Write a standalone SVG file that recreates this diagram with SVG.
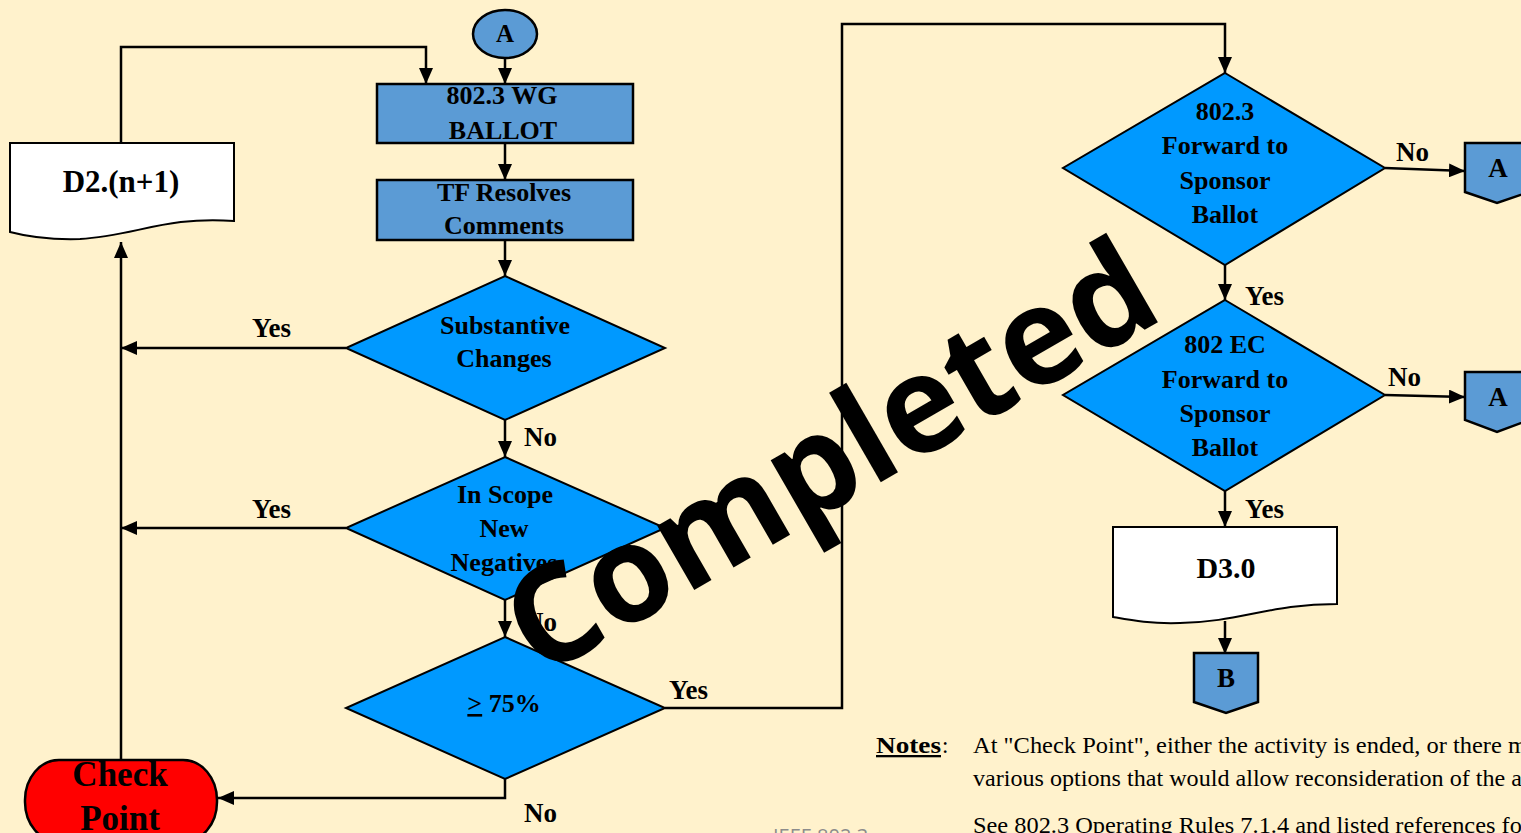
<svg xmlns="http://www.w3.org/2000/svg" width="1521" height="833" viewBox="0 0 1521 833">
<defs>
<marker id="ah" markerWidth="17" markerHeight="14" refX="16" refY="7" orient="auto" markerUnits="userSpaceOnUse"><path d="M0,0 L16,7 L0,14 z" fill="#000"/></marker>
</defs>
<style>
.t{font-family:"Liberation Serif","Times New Roman",serif;font-weight:bold;font-size:26px;fill:#000;text-anchor:middle}
.l{font-family:"Liberation Serif","Times New Roman",serif;font-weight:bold;font-size:27px;fill:#000}
.n{font-family:"Liberation Serif","Times New Roman",serif;font-size:23px;fill:#000}
.box{fill:#5B9BD5;stroke:#000;stroke-width:2.5}
.dia{fill:#0099FF;stroke:#000;stroke-width:2}
.doc{fill:#fff;stroke:#000;stroke-width:2}
.c{fill:none;stroke:#000;stroke-width:2.5;marker-end:url(#ah)}
</style>
<rect x="0" y="0" width="1521" height="833" fill="#FFF2CC"/>

<g id="connectors">
<path class="c" d="M505,58 V84"/>
<path class="c" d="M121,143 V47 H426 V84"/>
<path class="c" d="M505,143 V180"/>
<path class="c" d="M505,240 V276"/>
<path class="c" d="M346,348 H121"/>
<path class="c" d="M505,420 V457"/>
<path class="c" d="M346,528 H121"/>
<path class="c" d="M505,600 V637"/>
<path class="c" d="M665,708 H842 V24 H1225 V73"/>
<path class="c" d="M505,779 V798 H218"/>
<path class="c" d="M121,760 V242"/>
<path class="c" d="M1385,168 L1465,171"/>
<path class="c" d="M1225,265 V300"/>
<path class="c" d="M1385,395 L1465,397"/>
<path class="c" d="M1225,491 V527"/>
<path class="c" d="M1225,621 V654"/>
</g>

<g id="labels">
<text class="l" x="252" y="337">Yes</text>
<text class="l" x="524" y="446">No</text>
<text class="l" x="252" y="518">Yes</text>
<text class="l" x="524" y="631">No</text>
<text class="l" x="669" y="699">Yes</text>
<text class="l" x="524" y="822">No</text>
<text class="l" x="1396" y="161">No</text>
<text class="l" x="1245" y="305">Yes</text>
<text class="l" x="1388" y="386">No</text>
<text class="l" x="1245" y="518">Yes</text>
</g>

<g id="nodeA">
<ellipse class="box" cx="505" cy="34" rx="32" ry="24"/>
<text class="t" x="505" y="42" style="font-size:25px">A</text>
</g>

<g id="wgBallot">
<rect class="box" x="377" y="84" width="256" height="59"/>
<text class="t" x="502" y="104">802.3 WG</text>
<text class="t" x="503" y="139">BALLOT</text>
</g>

<g id="tfResolves">
<rect class="box" x="377" y="180" width="256" height="60"/>
<text class="t" x="504" y="201">TF Resolves</text>
<text class="t" x="504" y="234">Comments</text>
</g>

<g id="substantive">
<polygon class="dia" points="505,276 665,348 505,420 346,348"/>
<text class="t" x="505" y="334">Substantive</text>
<text class="t" x="504" y="367">Changes</text>
</g>

<g id="inScope">
<polygon class="dia" points="505,457 665,528 505,600 346,528"/>
<text class="t" x="505" y="503">In Scope</text>
<text class="t" x="504" y="537">New</text>
<text class="t" x="504" y="571">Negatives</text>
</g>

<g id="pct75">
<polygon class="dia" points="505,637 665,708 505,779 346,708"/>
<text class="t" x="504" y="712"><tspan text-decoration="underline">&gt;</tspan> 75%</text>
</g>

<g id="d2">
<path class="doc" d="M10,143 H234 V221 C165,216 135,236 80,239 C45,240 25,236 10,232 Z"/>
<text class="t" x="121" y="192" style="font-size:31px">D2.(n+1)</text>
</g>

<g id="checkPoint">
<rect x="25" y="760" width="192" height="82" rx="34" ry="40" fill="#FF0000" stroke="#000" stroke-width="2.5"/>
<text class="t" x="120" y="786" style="font-size:35px">Check</text>
<text class="t" x="120" y="830" style="font-size:35px">Point</text>
</g>

<g id="fwd8023">
<polygon class="dia" points="1225,73 1385,168 1225,265 1063,168"/>
<text class="t" x="1225" y="120">802.3</text>
<text class="t" x="1225" y="154">Forward to</text>
<text class="t" x="1225" y="189">Sponsor</text>
<text class="t" x="1225" y="223">Ballot</text>
</g>

<g id="offA1">
<polygon class="box" points="1465,143 1529,143 1529,192 1497,203 1465,192"/>
<text class="t" x="1498" y="177" style="font-size:27px">A</text>
</g>

<g id="fwd802EC">
<polygon class="dia" points="1225,300 1385,395 1225,491 1063,395"/>
<text class="t" x="1225" y="353">802 EC</text>
<text class="t" x="1225" y="388">Forward to</text>
<text class="t" x="1225" y="422">Sponsor</text>
<text class="t" x="1225" y="456">Ballot</text>
</g>

<g id="offA2">
<polygon class="box" points="1465,372 1529,372 1529,420 1497,432 1465,420"/>
<text class="t" x="1498" y="406" style="font-size:27px">A</text>
</g>

<g id="d3">
<path class="doc" d="M1113,527 H1337 V604 C1270,604 1240,622 1180,623 C1150,624 1130,620 1113,617 Z"/>
<text class="t" x="1226" y="578" style="font-size:30px">D3.0</text>
</g>

<g id="offB">
<polygon class="box" points="1194,653 1258,653 1258,702 1226,713 1194,702"/>
<text class="t" x="1226" y="687" style="font-size:27px">B</text>
</g>

<g id="notes">
<text class="n" x="876" y="753" font-weight="bold" text-decoration="underline" textLength="65" lengthAdjust="spacingAndGlyphs">Notes</text>
<text class="n" x="942" y="753">:</text>
<text class="n" x="973" y="753" textLength="554" lengthAdjust="spacingAndGlyphs">At "Check Point", either the activity is ended, or there m</text>
<text class="n" x="973" y="786" textLength="549" lengthAdjust="spacingAndGlyphs">various options that would allow reconsideration of the a</text>
<text class="n" x="973" y="833" textLength="557" lengthAdjust="spacingAndGlyphs">See 802.3 Operating Rules 7.1.4 and listed references for</text>
</g>

<text x="773" y="843" font-family="'Open Sans','Liberation Sans',sans-serif" font-size="20" fill="#8C8C8C">IEEE 802.3</text>

<text x="540" y="679" transform="rotate(-30 540 679)" font-family="'Open Sans','Liberation Sans',sans-serif" font-weight="bold" font-size="136" fill="#000" textLength="724" lengthAdjust="spacingAndGlyphs">Completed</text>
</svg>
